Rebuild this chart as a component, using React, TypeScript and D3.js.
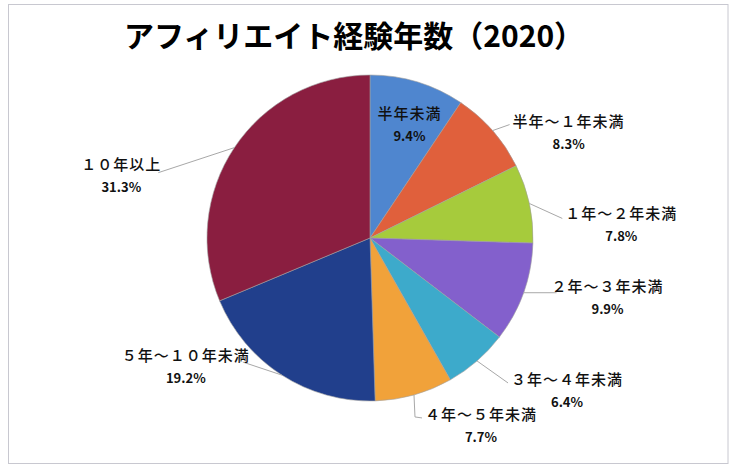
import React from "react";
import * as d3 from "d3";

const categories = ["半年未満", "半年～１年未満", "１年～２年未満", "２年～３年未満", "３年～４年未満", "４年～５年未満", "５年～１０年未満", "１０年以上"];
const values = [9.4, 8.3, 7.8, 9.9, 6.4, 7.7, 19.2, 31.3];
const colors = ["#4F86CF", "#E0603C", "#A6CB3C", "#8360CC", "#3DAACB", "#F1A23A", "#213F8C", "#8A1E40"];
const title = "アフィリエイト経験年数（2020）";

// label layout: text block centre offset from arc point at mid angle, leader path offsets
const labelOffsets: [number, number][] = [[-8, 42], [76, 1], [92, 21], [84, 4], [90, 29], [67, 30], [-96, -9], [-113, 27]];
const leaderPts: [number, number][][] = [[], [[17, -6]], [[33, 15]], [[33, 0]], [[31, 22]], [[1, 22], [8, 23]], [[-39, -13]], [[-76, 25]]];

const W = 734, H = 472;
const cx = 370, cy = 238, R = 163;

export default function App() {
  const pie = d3.pie<number>().sort(null).startAngle(0).endAngle(2 * Math.PI)(values);
  const arc = d3.arc<d3.PieArcDatum<number>>().innerRadius(0).outerRadius(R);
  const font = "'Noto Sans CJK JP', 'Noto Sans', sans-serif";
  return (
    <svg width={W} height={H} style={{ position: "absolute", left: 0, top: 0, background: "#fff" }}>
      <rect x={8.5} y={4.5} width={719.5} height={459} fill="#fff" stroke="#c8c8d0" strokeWidth={1} />
      <text x={354} y={47} textAnchor="middle" fontFamily={font} fontWeight={700} fontSize={30} fill="#000">{title}</text>
      <g transform={`translate(${cx},${cy})`}>
        {pie.map((d, i) => (
          <path key={i} d={arc(d) || ""} fill={colors[i]} stroke="#a0a0a0" strokeWidth={0.6} />
        ))}
      </g>
      {pie.map((d, i) => {
        const mid = (d.startAngle + d.endAngle) / 2;
        const ax = cx + R * Math.sin(mid);
        const ay = cy - R * Math.cos(mid);
        const [ox, oy] = labelOffsets[i];
        const tx = ax + ox, ty = ay + oy;
        const pts = leaderPts[i];
        const line = pts.length ? "M" + [[ax, ay], ...pts.map(([px, py]) => [ax + px, ay + py])].map((p) => p.join(",")).join("L") : null;
        return (
          <g key={i}>
            {line && <path d={line} fill="none" stroke="#a8a8a8" strokeWidth={1} />}
            <text x={tx} y={ty - 5} textAnchor="middle" fontFamily={font} fontWeight={500} fontSize={15} letterSpacing={1} fill="#111">{categories[i]}</text>
            <text x={tx} y={ty + 17} textAnchor="middle" fontFamily={font} fontWeight={700} fontSize={13} fill="#111">{values[i].toFixed(1)}%</text>
          </g>
        );
      })}
    </svg>
  );
}
